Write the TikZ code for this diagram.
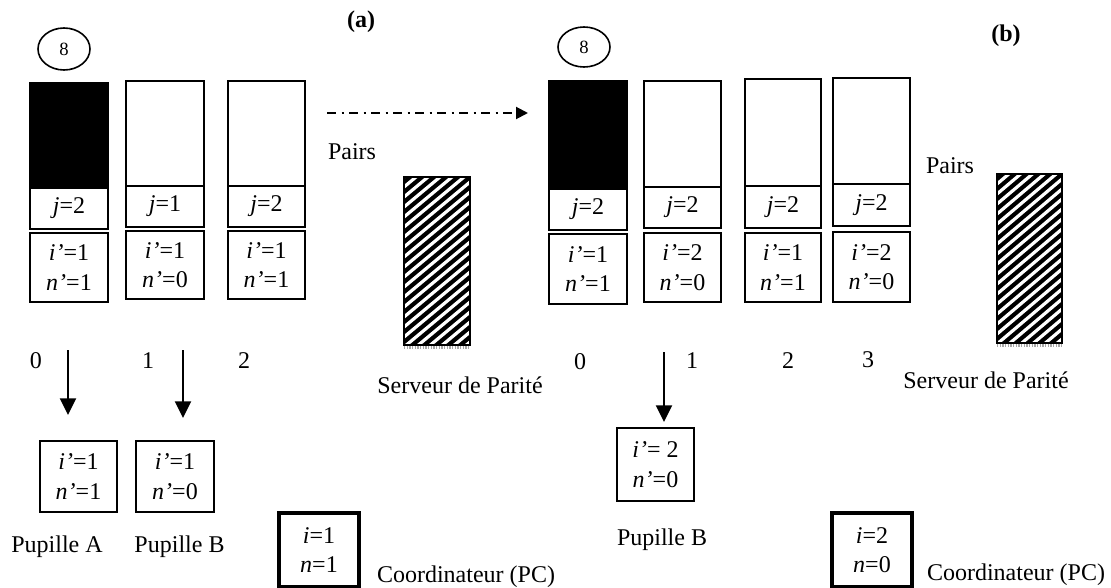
\documentclass[tikz,border=0pt]{standalone}
\usepackage{fontspec}
\setmainfont{Liberation Serif}
\usetikzlibrary{arrows.meta,shapes.geometric}
\newcommand\pxu[1]{#1*0.75pt}
\tikzset{
  txt/.style={inner sep=0pt, font=\fontsize{18}{21}\selectfont},
  cell/.style={draw, line width=1.2pt, inner sep=0pt, align=center, font=\fontsize{18}{22}\selectfont},
  blk/.style={cell, fill=black},
  coord/.style={cell, line width=3pt},
  oval/.style={draw, ellipse, line width=1.2pt, inner sep=0pt, font=\fontsize{14}{16}\selectfont},
  downarrow/.style={line width=1.5pt, -{Triangle[length=12.5pt,width=12pt]}},
  dasharrow/.style={line width=1.5pt, dash pattern=on 7pt off 4pt on 1.5pt off 4pt, -{Triangle[length=9pt,width=9pt]}},
}
\newcommand\infopair[2]{\textit{i’}=#1\\\textit{n’}=#2}
\newcommand\hatchrect[4]{%
  \begin{scope}
    \clip (#1,#2) rectangle (#3,#4);
    \fill[black] (#1,#2) rectangle (#3,#4);
    \foreach \k in {0,...,24}{
      \draw[white, line width=2.4pt] (#1,#2+10*\k) -- ++(#3-#1,-55);
    }
  \end{scope}
  \draw[line width=1.2pt] (#1,#2) rectangle (#3,#4);
  \draw[gray!70, line width=2pt, dash pattern=on 1pt off 1pt] (#1,#4+2.5) -- (#3,#4+2.5);
}
\begin{document}
\begin{tikzpicture}[x=0.75pt,y=-0.75pt]
\useasboundingbox (0,0) rectangle (1111,588);

% ---------- (a) ----------
\node[txt, font=\fontsize{18}{21}\selectfont\bfseries] (la) at (361,22) {(a)};
\node[oval, minimum width=\pxu{52}, minimum height=\pxu{42}] (ea) at (64,49) {8};

\node[blk, minimum width=\pxu{78}, minimum height=\pxu{105}] (a0t) at (69,135.5) {};
\node[cell, minimum width=\pxu{78}, minimum height=\pxu{41}] (a0j) at (69,208.5) {\textit{j}=2};
\node[cell, minimum width=\pxu{78}, minimum height=\pxu{69}] (a0i) at (69,267.5) {\infopair{1}{1}};

\node[cell, minimum width=\pxu{78}, minimum height=\pxu{105}] (a1t) at (165,133.5) {};
\node[cell, minimum width=\pxu{78}, minimum height=\pxu{41}] (a1j) at (165,206.5) {\textit{j}=1};
\node[cell, minimum width=\pxu{78}, minimum height=\pxu{68}] (a1i) at (165,265) {\infopair{1}{0}};

\node[cell, minimum width=\pxu{77}, minimum height=\pxu{105}] (a2t) at (266.5,133.5) {};
\node[cell, minimum width=\pxu{77}, minimum height=\pxu{41}] (a2j) at (266.5,206.5) {\textit{j}=2};
\node[cell, minimum width=\pxu{77}, minimum height=\pxu{68}] (a2i) at (266.5,265) {\infopair{1}{1}};

\node[txt] (pa) at (352,152) {Pairs};
\hatchrect{404}{177}{470}{345}
\node[txt] (sa) at (460,385) {Serveur de Parité};

\node[txt] (da0) at (36,361) {0};
\node[txt] (da1) at (148,361) {1};
\node[txt] (da2) at (244,361) {2};

\node[cell, minimum width=\pxu{77}, minimum height=\pxu{71}] (pupA) at (78.5,476.5) {\infopair{1}{1}};
\node[cell, minimum width=\pxu{78}, minimum height=\pxu{71}] (pupB) at (175,476.5) {\infopair{1}{0}};
\node[txt] (lpA) at (57,547) {Pupille A};
\node[txt] (lpB) at (179.5,547) {Pupille B};

\coordinate (arA1) at (68,350);
\coordinate (arA2) at (68,415);
\coordinate (arB1) at (183,350);
\coordinate (arB2) at (183,418);
\draw[downarrow] (arA1) -- (arA2);
\draw[downarrow] (arB1) -- (arB2);

\node[coord, minimum width=\pxu{80}, minimum height=\pxu{74}] (pca) at (319,550) {\textit{i}=1\\\textit{n}=1};
\node[txt] (lpca) at (466,577) {Coordinateur (PC)};

% transition arrow
\coordinate (ts) at (327,113);
\coordinate (te) at (528,113);
\draw[dasharrow] (ts) -- (te);

% ---------- (b) ----------
\node[txt, font=\fontsize{18}{21}\selectfont\bfseries] (lb) at (1006,36) {(b)};
\node[oval, minimum width=\pxu{52}, minimum height=\pxu{40}] (eb) at (584,47) {8};

\node[blk, minimum width=\pxu{78}, minimum height=\pxu{108}] (b0t) at (588,135) {};
\node[cell, minimum width=\pxu{78}, minimum height=\pxu{41}] (b0j) at (588,209.5) {\textit{j}=2};
\node[cell, minimum width=\pxu{78}, minimum height=\pxu{70}] (b0i) at (588,269) {\infopair{1}{1}};

\node[cell, minimum width=\pxu{77}, minimum height=\pxu{106}] (b1t) at (682.5,134) {};
\node[cell, minimum width=\pxu{77}, minimum height=\pxu{41}] (b1j) at (682.5,207.5) {\textit{j}=2};
\node[cell, minimum width=\pxu{77}, minimum height=\pxu{69}] (b1i) at (682.5,267.5) {\infopair{2}{0}};

\node[cell, minimum width=\pxu{76}, minimum height=\pxu{107}] (b2t) at (783,132.5) {};
\node[cell, minimum width=\pxu{76}, minimum height=\pxu{42}] (b2j) at (783,207) {\textit{j}=2};
\node[cell, minimum width=\pxu{76}, minimum height=\pxu{69}] (b2i) at (783,267.5) {\infopair{1}{1}};

\node[cell, minimum width=\pxu{77}, minimum height=\pxu{106}] (b3t) at (871.5,131) {};
\node[cell, minimum width=\pxu{77}, minimum height=\pxu{42}] (b3j) at (871.5,205) {\textit{j}=2};
\node[cell, minimum width=\pxu{77}, minimum height=\pxu{70}] (b3i) at (871.5,267) {\infopair{2}{0}};

\node[txt] (pb) at (950,166) {Pairs};
\hatchrect{997}{174}{1062}{343}
\node[txt] (sb) at (986,380) {Serveur de Parité};

\node[txt] (db0) at (580,362) {0};
\node[txt] (db1) at (692,361) {1};
\node[txt] (db2) at (788,361) {2};
\node[txt] (db3) at (868,360) {3};

\coordinate (arC1) at (664,352);
\coordinate (arC2) at (664,422);
\draw[downarrow] (arC1) -- (arC2);

\node[cell, minimum width=\pxu{77}, minimum height=\pxu{73}] (pupBb) at (655.5,464.5) {\textit{i’}= 2\\\textit{n’}=0};
\node[txt] (lpBb) at (662,540) {Pupille B};

\node[coord, minimum width=\pxu{80}, minimum height=\pxu{74}] (pcb) at (872,550) {\textit{i}=2\\\textit{n}=0};
\node[txt] (lpcb) at (1016,575) {Coordinateur (PC)};
\end{tikzpicture}
\end{document}
